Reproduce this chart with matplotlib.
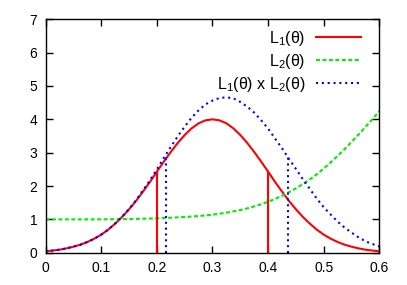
import matplotlib
matplotlib.use("Agg")
import matplotlib.pyplot as plt
import numpy as np

plt.rcParams['font.family'] = ['Liberation Sans', 'DejaVu Sans']
plt.rcParams['mathtext.fontset'] = 'custom'
plt.rcParams['mathtext.rm'] = 'Liberation Sans'
plt.rcParams['mathtext.default'] = 'regular'

# values
theta = [0.0, 0.0125, 0.025, 0.0375, 0.05, 0.0625, 0.075, 0.0875, 0.1, 0.1125,
         0.125, 0.1375, 0.15, 0.1625, 0.175, 0.1875, 0.2, 0.2125, 0.225, 0.2375,
         0.25, 0.2625, 0.275, 0.2875, 0.3, 0.3125, 0.325, 0.3375, 0.35, 0.3625,
         0.375, 0.3875, 0.4, 0.4125, 0.425, 0.4375, 0.45, 0.4625, 0.475, 0.4875,
         0.5, 0.5125, 0.525, 0.5375, 0.55, 0.5625, 0.575, 0.5875, 0.6]
l1 = [0.044, 0.064, 0.09, 0.13, 0.18, 0.24, 0.32, 0.42, 0.54, 0.69,
      0.87, 1.07, 1.30, 1.55, 1.83, 2.12, 2.43, 2.73, 3.02, 3.29,
      3.53, 3.73, 3.88, 3.97, 4.00, 3.97, 3.88, 3.73, 3.53, 3.29,
      3.02, 2.73, 2.43, 2.12, 1.83, 1.55, 1.30, 1.07, 0.87, 0.69,
      0.54, 0.42, 0.32, 0.24, 0.18, 0.13, 0.09, 0.064, 0.044]
l2 = [1.00, 1.00, 1.00, 1.00, 1.00, 1.00, 1.00, 1.00, 1.00, 1.002,
      1.005, 1.007, 1.01, 1.015, 1.02, 1.025, 1.03, 1.04, 1.05, 1.06,
      1.07, 1.085, 1.10, 1.12, 1.14, 1.17, 1.20, 1.24, 1.28, 1.33,
      1.39, 1.455, 1.53, 1.615, 1.71, 1.815, 1.93, 2.06, 2.20, 2.355,
      2.525, 2.71, 2.905, 3.11, 3.325, 3.545, 3.775, 4.01, 4.25]
l12 = [0.044, 0.064, 0.09, 0.13, 0.18, 0.24, 0.32, 0.42, 0.54, 0.69,
       0.875, 1.08, 1.31, 1.57, 1.87, 2.17, 2.50, 2.84, 3.17, 3.49,
       3.78, 4.05, 4.27, 4.45, 4.56, 4.64, 4.66, 4.63, 4.52, 4.38,
       4.20, 3.97, 3.72, 3.42, 3.13, 2.81, 2.51, 2.20, 1.91, 1.62,
       1.36, 1.14, 0.93, 0.75, 0.60, 0.46, 0.34, 0.26, 0.19]

# interval bounds marked with vertical lines
l1_bounds = [0.2, 0.4]
l12_bounds = [0.216, 0.435]

xticks = [0, 0.1, 0.2, 0.3, 0.4, 0.5, 0.6]
xticklabels = ["0", "0.1", "0.2", "0.3", "0.4", "0.5", "0.6"]
yticks = [0, 1, 2, 3, 4, 5, 6, 7]

fig = plt.figure(figsize=(4.07, 2.85), dpi=100)
ax = fig.add_axes([0.1118, 0.1133, 0.8206, 0.8190])

lw = 1.5
dots = (1.0, 1.8)
ax.plot(theta, l1, color='#ff0000', lw=lw, label=r'L$_1$(θ)')
ax.plot(theta, l2, color='#00ee00', lw=lw, dashes=(1.9, 1.2), label=r'L$_2$(θ)')
ax.plot(theta, l12, color='#0000ff', lw=lw, dashes=dots,
        label=r'L$_1$(θ) x L$_2$(θ)')

for b in l1_bounds:
    ax.plot([b, b], [0, np.interp(b, theta, l1)], color='#ff0000', lw=lw)
for b in l12_bounds:
    ax.plot([b, b], [0, np.interp(b, theta, l12)], color='#0000ff', lw=lw,
            dashes=dots)

ax.set_xlim(0, 0.6)
ax.set_ylim(0, 7)
ax.set_xticks(xticks)
ax.set_xticklabels(xticklabels)
ax.set_yticks(yticks)
ax.tick_params(direction='in', length=5, width=1, top=True, right=True,
               labelsize=10, pad=6)
for s in ax.spines.values():
    s.set_linewidth(1)

ax.legend(loc='upper right', bbox_to_anchor=(0.944, 0.96), frameon=False,
          markerfirst=False, fontsize=11.5, handlelength=2.8, handletextpad=0.67,
          labelspacing=0.26, borderpad=0, borderaxespad=0)

fig.savefig("out.png", dpi=100)
